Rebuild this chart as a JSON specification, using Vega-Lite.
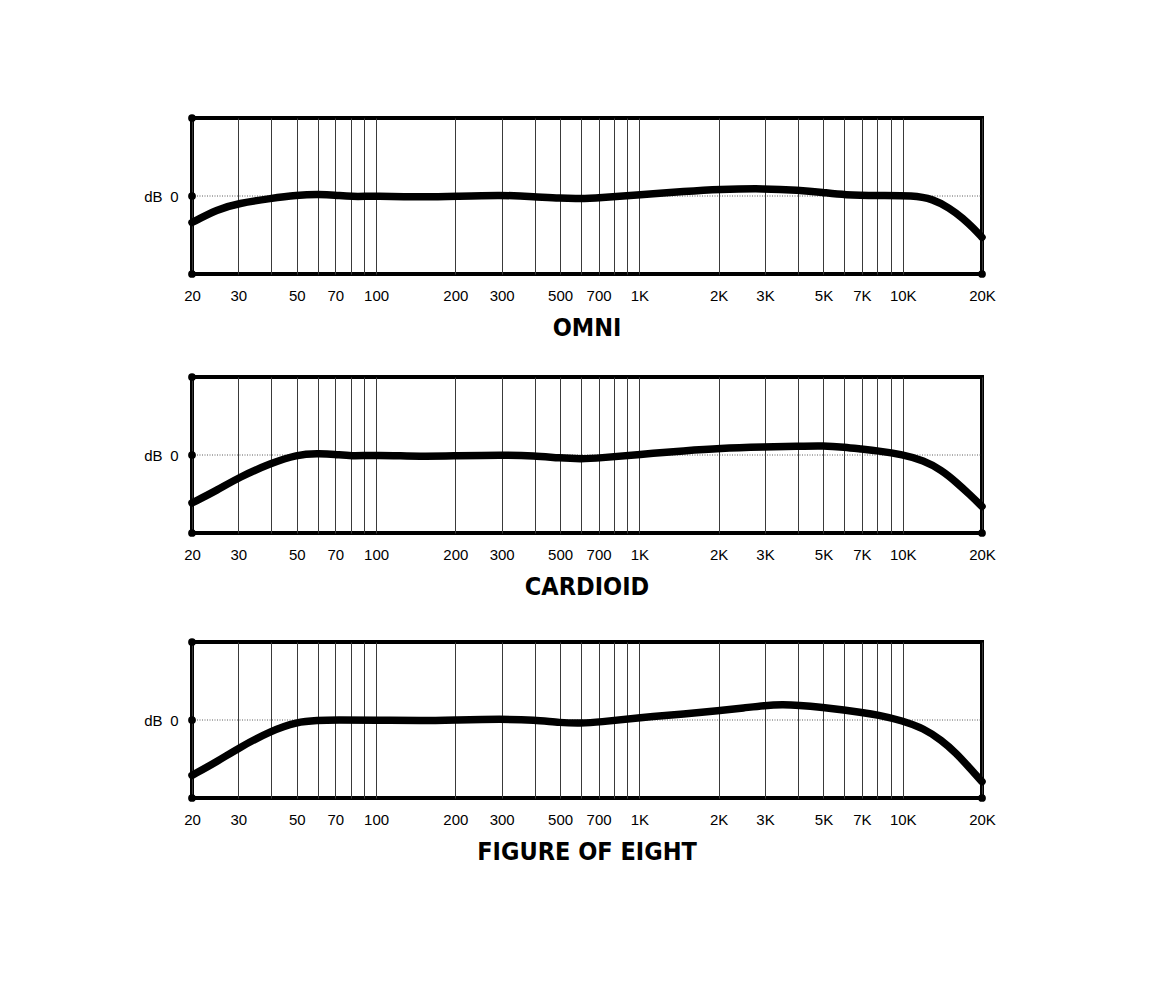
{
  "$schema": "https://vega.github.io/schema/vega-lite/v6.json",
  "background": "white",
  "autosize": {"type": "pad"},
  "padding": {"left": 141, "top": 112, "right": 10, "bottom": 10},
  "spacing": 34,
  "config": {
    "view": {"stroke": "black", "strokeWidth": 4},
    "font": "Liberation Sans",
    "title": {"orient": "bottom", "anchor": "middle", "font": "DejaVu Sans Condensed, Liberation Sans Narrow, Liberation Sans", "fontSize": 25, "fontWeight": "bold", "color": "black", "offset": 13}
  },
  "datasets": {
    "zero": [{"f": 20, "db": 0}, {"f": 20000, "db": 0}],
    "grid": [
      {"f": 20}, {"f": 30}, {"f": 40}, {"f": 50}, {"f": 60}, {"f": 70}, {"f": 80}, {"f": 90},
      {"f": 100}, {"f": 200}, {"f": 300}, {"f": 400}, {"f": 500}, {"f": 600}, {"f": 700}, {"f": 800}, {"f": 900},
      {"f": 1000}, {"f": 2000}, {"f": 3000}, {"f": 4000}, {"f": 5000}, {"f": 6000}, {"f": 7000}, {"f": 8000}, {"f": 9000},
      {"f": 10000}, {"f": 20000}
    ],
    "corners": [{"f": 20, "db": 10}, {"f": 20, "db": 0}, {"f": 20, "db": -10}, {"f": 20000, "db": -10}],
    "curves": [
      {"pattern": "OMNI", "f": 20, "db": -3.4},
      {"pattern": "OMNI", "f": 25, "db": -1.7},
      {"pattern": "OMNI", "f": 30, "db": -0.94},
      {"pattern": "OMNI", "f": 40, "db": -0.3},
      {"pattern": "OMNI", "f": 50, "db": 0.1},
      {"pattern": "OMNI", "f": 60, "db": 0.22},
      {"pattern": "OMNI", "f": 70, "db": 0.13},
      {"pattern": "OMNI", "f": 80, "db": -0.1},
      {"pattern": "OMNI", "f": 100, "db": 0},
      {"pattern": "OMNI", "f": 150, "db": -0.15},
      {"pattern": "OMNI", "f": 200, "db": -0.04},
      {"pattern": "OMNI", "f": 300, "db": 0.13},
      {"pattern": "OMNI", "f": 400, "db": -0.08},
      {"pattern": "OMNI", "f": 500, "db": -0.3},
      {"pattern": "OMNI", "f": 600, "db": -0.34},
      {"pattern": "OMNI", "f": 700, "db": -0.22},
      {"pattern": "OMNI", "f": 1000, "db": 0.13},
      {"pattern": "OMNI", "f": 1500, "db": 0.6},
      {"pattern": "OMNI", "f": 2000, "db": 0.86},
      {"pattern": "OMNI", "f": 3000, "db": 0.96},
      {"pattern": "OMNI", "f": 4000, "db": 0.77},
      {"pattern": "OMNI", "f": 5000, "db": 0.45},
      {"pattern": "OMNI", "f": 6000, "db": 0.13},
      {"pattern": "OMNI", "f": 8000, "db": 0.04},
      {"pattern": "OMNI", "f": 11000, "db": 0.09},
      {"pattern": "OMNI", "f": 13000, "db": -0.4},
      {"pattern": "OMNI", "f": 15000, "db": -1.5},
      {"pattern": "OMNI", "f": 17000, "db": -2.9},
      {"pattern": "OMNI", "f": 18500, "db": -4.1},
      {"pattern": "OMNI", "f": 20000, "db": -5.3},
      {"pattern": "CARDIOID", "f": 20, "db": -6.15},
      {"pattern": "CARDIOID", "f": 25, "db": -4.5},
      {"pattern": "CARDIOID", "f": 30, "db": -2.9},
      {"pattern": "CARDIOID", "f": 40, "db": -1.03},
      {"pattern": "CARDIOID", "f": 50, "db": 0.05},
      {"pattern": "CARDIOID", "f": 60, "db": 0.2},
      {"pattern": "CARDIOID", "f": 70, "db": 0.1},
      {"pattern": "CARDIOID", "f": 80, "db": -0.15},
      {"pattern": "CARDIOID", "f": 100, "db": 0},
      {"pattern": "CARDIOID", "f": 150, "db": -0.2},
      {"pattern": "CARDIOID", "f": 200, "db": -0.1},
      {"pattern": "CARDIOID", "f": 300, "db": 0},
      {"pattern": "CARDIOID", "f": 400, "db": -0.1},
      {"pattern": "CARDIOID", "f": 500, "db": -0.4},
      {"pattern": "CARDIOID", "f": 600, "db": -0.5},
      {"pattern": "CARDIOID", "f": 700, "db": -0.4},
      {"pattern": "CARDIOID", "f": 1000, "db": 0.08},
      {"pattern": "CARDIOID", "f": 1500, "db": 0.55},
      {"pattern": "CARDIOID", "f": 2000, "db": 0.85},
      {"pattern": "CARDIOID", "f": 3000, "db": 1.03},
      {"pattern": "CARDIOID", "f": 4000, "db": 1.12},
      {"pattern": "CARDIOID", "f": 5000, "db": 1.2},
      {"pattern": "CARDIOID", "f": 6000, "db": 1.0},
      {"pattern": "CARDIOID", "f": 7000, "db": 0.75},
      {"pattern": "CARDIOID", "f": 8000, "db": 0.55},
      {"pattern": "CARDIOID", "f": 10000, "db": 0.05},
      {"pattern": "CARDIOID", "f": 12000, "db": -0.7},
      {"pattern": "CARDIOID", "f": 14000, "db": -1.9},
      {"pattern": "CARDIOID", "f": 16000, "db": -3.5},
      {"pattern": "CARDIOID", "f": 18000, "db": -5.1},
      {"pattern": "CARDIOID", "f": 20000, "db": -6.6},
      {"pattern": "FIGURE OF EIGHT", "f": 20, "db": -7.1},
      {"pattern": "FIGURE OF EIGHT", "f": 25, "db": -5.3},
      {"pattern": "FIGURE OF EIGHT", "f": 30, "db": -3.6},
      {"pattern": "FIGURE OF EIGHT", "f": 40, "db": -1.37},
      {"pattern": "FIGURE OF EIGHT", "f": 50, "db": -0.25},
      {"pattern": "FIGURE OF EIGHT", "f": 60, "db": -0.05},
      {"pattern": "FIGURE OF EIGHT", "f": 70, "db": 0},
      {"pattern": "FIGURE OF EIGHT", "f": 100, "db": 0},
      {"pattern": "FIGURE OF EIGHT", "f": 150, "db": -0.1},
      {"pattern": "FIGURE OF EIGHT", "f": 200, "db": 0},
      {"pattern": "FIGURE OF EIGHT", "f": 300, "db": 0.13},
      {"pattern": "FIGURE OF EIGHT", "f": 400, "db": 0},
      {"pattern": "FIGURE OF EIGHT", "f": 500, "db": -0.35},
      {"pattern": "FIGURE OF EIGHT", "f": 600, "db": -0.43},
      {"pattern": "FIGURE OF EIGHT", "f": 700, "db": -0.28},
      {"pattern": "FIGURE OF EIGHT", "f": 1000, "db": 0.3},
      {"pattern": "FIGURE OF EIGHT", "f": 1500, "db": 0.8},
      {"pattern": "FIGURE OF EIGHT", "f": 2000, "db": 1.2},
      {"pattern": "FIGURE OF EIGHT", "f": 2500, "db": 1.55},
      {"pattern": "FIGURE OF EIGHT", "f": 3000, "db": 1.88},
      {"pattern": "FIGURE OF EIGHT", "f": 3500, "db": 1.97},
      {"pattern": "FIGURE OF EIGHT", "f": 4000, "db": 1.9},
      {"pattern": "FIGURE OF EIGHT", "f": 5000, "db": 1.6},
      {"pattern": "FIGURE OF EIGHT", "f": 6000, "db": 1.28},
      {"pattern": "FIGURE OF EIGHT", "f": 7000, "db": 0.96},
      {"pattern": "FIGURE OF EIGHT", "f": 8000, "db": 0.68},
      {"pattern": "FIGURE OF EIGHT", "f": 10000, "db": -0.09},
      {"pattern": "FIGURE OF EIGHT", "f": 12000, "db": -1.07},
      {"pattern": "FIGURE OF EIGHT", "f": 14000, "db": -2.56},
      {"pattern": "FIGURE OF EIGHT", "f": 16000, "db": -4.27},
      {"pattern": "FIGURE OF EIGHT", "f": 18000, "db": -6.2},
      {"pattern": "FIGURE OF EIGHT", "f": 20000, "db": -7.9}
    ]
  },
  "vconcat": [
    {
      "spacing": 28,
      "vconcat": [
        {
          "width": 790, "height": 156,
          "title": {"text": "OMNI"},
          "encoding": {
            "x": {"field": "f", "type": "quantitative", "scale": {"type": "log", "domain": [20, 20000], "nice": false},
              "axis": {"values": [20,30,40,50,60,70,80,90,100,200,300,400,500,600,700,800,900,1000,2000,3000,4000,5000,6000,7000,8000,9000,10000,20000],
                "title": null, "grid": true, "gridColor": "#3a3a3a", "gridWidth": 1, "domain": false, "ticks": false, "tickSize": 0,
                "labelPadding": 14, "labelFontSize": 15, "labelFont": "Liberation Sans", "labelColor": "black",
                "labelOverlap": false, "labelFlush": false, "labelBound": false,
                "labelExpr": "indexof([40,60,80,90,400,600,800,900,4000,6000,8000,9000], datum.value) >= 0 ? '' : (datum.value >= 1000 ? (datum.value / 1000) + 'K' : datum.value + '')"}},
            "y": {"field": "db", "type": "quantitative", "scale": {"domain": [-10, 10], "nice": false, "zero": false},
              "axis": {"values": [0], "grid": false, "domain": false, "ticks": false, "tickSize": 0, "labelPadding": 14,
                "labelFontSize": 15, "labelFont": "Liberation Sans", "labelColor": "black",
                "title": "dB", "titleAngle": 0, "titleFontWeight": "normal", "titleFontSize": 15, "titleFont": "Liberation Sans",
                "titleColor": "black", "titleAlign": "right", "titleBaseline": "middle", "titleX": -30, "titleY": 78}}
          },
          "layer": [
            {"data": {"name": "zero"}, "mark": {"type": "line", "strokeDash": [1, 1.5], "color": "#333", "strokeWidth": 0.8}, "encoding": {}},
            {"data": {"name": "curves"}, "transform": [{"filter": "datum.pattern == 'OMNI'"}], "mark": {"type": "line", "interpolate": "basis", "strokeWidth": 7.5, "strokeCap": "round", "color": "black"}, "encoding": {}},
            {"data": {"name": "grid"}, "mark": {"type": "point", "filled": true, "size": 30, "color": "black", "opacity": 1}, "encoding": {"y": {"datum": -10}}},
            {"data": {"name": "corners"}, "mark": {"type": "point", "filled": true, "size": 60, "color": "black", "opacity": 1}, "encoding": {}}
          ]
        },
        {
          "width": 790, "height": 156,
          "title": {"text": "CARDIOID"},
          "encoding": {
            "x": {"field": "f", "type": "quantitative", "scale": {"type": "log", "domain": [20, 20000], "nice": false},
              "axis": {"values": [20,30,40,50,60,70,80,90,100,200,300,400,500,600,700,800,900,1000,2000,3000,4000,5000,6000,7000,8000,9000,10000,20000],
                "title": null, "grid": true, "gridColor": "#3a3a3a", "gridWidth": 1, "domain": false, "ticks": false, "tickSize": 0,
                "labelPadding": 14, "labelFontSize": 15, "labelFont": "Liberation Sans", "labelColor": "black",
                "labelOverlap": false, "labelFlush": false, "labelBound": false,
                "labelExpr": "indexof([40,60,80,90,400,600,800,900,4000,6000,8000,9000], datum.value) >= 0 ? '' : (datum.value >= 1000 ? (datum.value / 1000) + 'K' : datum.value + '')"}},
            "y": {"field": "db", "type": "quantitative", "scale": {"domain": [-10, 10], "nice": false, "zero": false},
              "axis": {"values": [0], "grid": false, "domain": false, "ticks": false, "tickSize": 0, "labelPadding": 14,
                "labelFontSize": 15, "labelFont": "Liberation Sans", "labelColor": "black",
                "title": "dB", "titleAngle": 0, "titleFontWeight": "normal", "titleFontSize": 15, "titleFont": "Liberation Sans",
                "titleColor": "black", "titleAlign": "right", "titleBaseline": "middle", "titleX": -30, "titleY": 78}}
          },
          "layer": [
            {"data": {"name": "zero"}, "mark": {"type": "line", "strokeDash": [1, 1.5], "color": "#333", "strokeWidth": 0.8}, "encoding": {}},
            {"data": {"name": "curves"}, "transform": [{"filter": "datum.pattern == 'CARDIOID'"}], "mark": {"type": "line", "interpolate": "basis", "strokeWidth": 7.5, "strokeCap": "round", "color": "black"}, "encoding": {}},
            {"data": {"name": "grid"}, "mark": {"type": "point", "filled": true, "size": 30, "color": "black", "opacity": 1}, "encoding": {"y": {"datum": -10}}},
            {"data": {"name": "corners"}, "mark": {"type": "point", "filled": true, "size": 60, "color": "black", "opacity": 1}, "encoding": {}}
          ]
        }
      ]
    },
    {
      "width": 790, "height": 156,
      "title": {"text": "FIGURE OF EIGHT"},
      "encoding": {
        "x": {"field": "f", "type": "quantitative", "scale": {"type": "log", "domain": [20, 20000], "nice": false},
          "axis": {"values": [20,30,40,50,60,70,80,90,100,200,300,400,500,600,700,800,900,1000,2000,3000,4000,5000,6000,7000,8000,9000,10000,20000],
            "title": null, "grid": true, "gridColor": "#3a3a3a", "gridWidth": 1, "domain": false, "ticks": false, "tickSize": 0,
            "labelPadding": 14, "labelFontSize": 15, "labelFont": "Liberation Sans", "labelColor": "black",
            "labelOverlap": false, "labelFlush": false, "labelBound": false,
            "labelExpr": "indexof([40,60,80,90,400,600,800,900,4000,6000,8000,9000], datum.value) >= 0 ? '' : (datum.value >= 1000 ? (datum.value / 1000) + 'K' : datum.value + '')"}},
        "y": {"field": "db", "type": "quantitative", "scale": {"domain": [-10, 10], "nice": false, "zero": false},
          "axis": {"values": [0], "grid": false, "domain": false, "ticks": false, "tickSize": 0, "labelPadding": 14,
            "labelFontSize": 15, "labelFont": "Liberation Sans", "labelColor": "black",
            "title": "dB", "titleAngle": 0, "titleFontWeight": "normal", "titleFontSize": 15, "titleFont": "Liberation Sans",
            "titleColor": "black", "titleAlign": "right", "titleBaseline": "middle", "titleX": -30, "titleY": 78}}
      },
      "layer": [
        {"data": {"name": "zero"}, "mark": {"type": "line", "strokeDash": [1, 1.5], "color": "#333", "strokeWidth": 0.8}, "encoding": {}},
        {"data": {"name": "curves"}, "transform": [{"filter": "datum.pattern == 'FIGURE OF EIGHT'"}], "mark": {"type": "line", "interpolate": "basis", "strokeWidth": 7.5, "strokeCap": "round", "color": "black"}, "encoding": {}},
        {"data": {"name": "grid"}, "mark": {"type": "point", "filled": true, "size": 30, "color": "black", "opacity": 1}, "encoding": {"y": {"datum": -10}}},
        {"data": {"name": "corners"}, "mark": {"type": "point", "filled": true, "size": 60, "color": "black", "opacity": 1}, "encoding": {}}
      ]
    }
  ]
}
